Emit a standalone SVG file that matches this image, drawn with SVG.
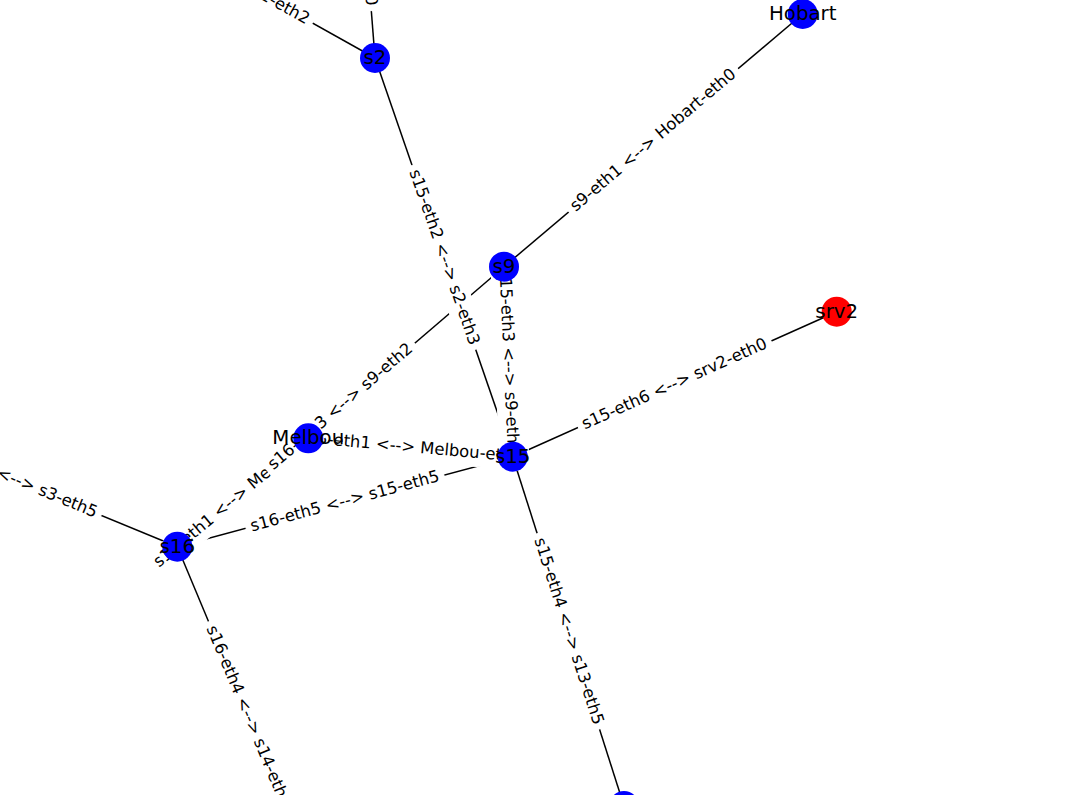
<svg xmlns="http://www.w3.org/2000/svg" width="1070" height="795" viewBox="0 0 1070 795">
<style>
.e{stroke:#000;stroke-width:1.5;fill:none}
.lb{fill:#fff;stroke:#fff;stroke-width:1}
.lt{font-family:"DejaVu Sans",sans-serif;font-size:16.4px;fill:#000;text-anchor:middle}
.n{fill:#0000ff}
.r{fill:#ff0000}
.nt{font-family:"DejaVu Sans",sans-serif;font-size:19.8px;fill:#000;text-anchor:middle}
</style>
<rect width="1070" height="795" fill="#fff"/>
<g id="connectors">
<line class="e" x1="375" y1="58" x2="350" y2="-262"/>
<line class="e" x1="375" y1="58" x2="89" y2="-102"/>
<line class="e" x1="375" y1="58" x2="512.7" y2="456.7"/>
<line class="e" x1="802.7" y1="14" x2="504" y2="266.7"/>
<line class="e" x1="504" y1="266.7" x2="512.7" y2="456.7"/>
<line class="e" x1="504" y1="266.7" x2="177.3" y2="546.7"/>
<line class="e" x1="177.3" y1="546.7" x2="308.3" y2="438.3"/>
<line class="e" x1="308.3" y1="438.3" x2="512.7" y2="456.7"/>
<line class="e" x1="512.7" y1="456.7" x2="177.3" y2="546.7"/>
<line class="e" x1="512.7" y1="456.7" x2="836.7" y2="311.7"/>
<line class="e" x1="512.7" y1="456.7" x2="624" y2="806"/>
<line class="e" x1="177.3" y1="546.7" x2="319" y2="886"/>
<line class="e" x1="177.3" y1="546.7" x2="-155" y2="410"/>
</g>
<g id="edge-labels">
<g transform="translate(362.5,-102) rotate(85.5)"><rect class="lb" x="-112.9" y="-13" width="225.8" height="26" rx="4.9"/><text class="lt" y="4.6">s2-eth1 &lt;--&gt; Sydney-eth0</text></g>
<g transform="translate(232,-22) rotate(29.2)"><rect class="lb" x="-92" y="-13" width="184" height="26" rx="4.9"/><text class="lt" y="4.6">s1-eth2 &lt;--&gt; s2-eth2</text></g>
<g transform="translate(443.85,257.35) rotate(70.9)"><rect class="lb" x="-97.2" y="-13" width="194.4" height="26" rx="4.9"/><text class="lt" y="4.6">s15-eth2 &lt;--&gt; s2-eth3</text></g>
<g transform="translate(653.35,140.35) rotate(-40.2)"><rect class="lb" x="-110.5" y="-13" width="221" height="26" rx="4.9"/><text class="lt" y="4.6">s9-eth1 &lt;--&gt; Hobart-eth0</text></g>
<g transform="translate(508.35,361.7) rotate(87.4)"><rect class="lb" x="-97.2" y="-13" width="194.4" height="26" rx="4.9"/><text class="lt" y="4.6">s15-eth3 &lt;--&gt; s9-eth1</text></g>
<g transform="translate(242.8,492.5) rotate(-39.6)"><rect class="lb" x="-117.6" y="-13" width="235.2" height="26" rx="4.9"/><text class="lt" y="4.6">s16-eth1 &lt;--&gt; Melbou-eth1</text></g>
<g transform="translate(410.5,447.5) rotate(5.1)"><rect class="lb" x="-117.6" y="-13" width="235.2" height="26" rx="4.9"/><text class="lt" y="4.6">s15-eth1 &lt;--&gt; Melbou-eth0</text></g>
<g transform="translate(340.65,406.7) rotate(-40.6)"><rect class="lb" x="-97.2" y="-13" width="194.4" height="26" rx="4.9"/><text class="lt" y="4.6">s16-eth3 &lt;--&gt; s9-eth2</text></g>
<g transform="translate(345,501.7) rotate(-15.02)"><rect class="lb" x="-102.4" y="-13" width="204.8" height="26" rx="4.9"/><text class="lt" y="4.6">s16-eth5 &lt;--&gt; s15-eth5</text></g>
<g transform="translate(674.7,384.2) rotate(-24.1)"><rect class="lb" x="-105.5" y="-13" width="211" height="26" rx="4.9"/><text class="lt" y="4.6">s15-eth6 &lt;--&gt; srv2-eth0</text></g>
<g transform="translate(568.35,631.35) rotate(72.33)"><rect class="lb" x="-102.4" y="-13" width="204.8" height="26" rx="4.9"/><text class="lt" y="4.6">s15-eth4 &lt;--&gt; s13-eth5</text></g>
<g transform="translate(248.15,716.35) rotate(67.33)"><rect class="lb" x="-102.4" y="-13" width="204.8" height="26" rx="4.9"/><text class="lt" y="4.6">s16-eth4 &lt;--&gt; s14-eth4</text></g>
<g transform="translate(11.15,478.35) rotate(22.36)"><rect class="lb" x="-97.2" y="-13" width="194.4" height="26" rx="4.9"/><text class="lt" y="4.6">s16-eth2 &lt;--&gt; s3-eth5</text></g>
</g>
<g id="node-s2"><circle class="n" cx="375" cy="58" r="15"/><text class="nt" x="375" y="64">s2</text></g>
<g id="node-Hobart"><circle class="n" cx="802.7" cy="14" r="15"/><text class="nt" x="802.7" y="20">Hobart</text></g>
<g id="node-s9"><circle class="n" cx="504" cy="266.7" r="15"/><text class="nt" x="504" y="272.7">s9</text></g>
<g id="node-srv2"><circle class="r" cx="836.7" cy="311.7" r="15"/><text class="nt" x="836.7" y="317.7">srv2</text></g>
<g id="node-Melbou"><circle class="n" cx="308.3" cy="438.3" r="15"/><text class="nt" x="308.3" y="444.3">Melbou</text></g>
<g id="node-s15"><circle class="n" cx="512.7" cy="456.7" r="15"/><text class="nt" x="512.7" y="462.7">s15</text></g>
<g id="node-s16"><circle class="n" cx="177.3" cy="546.7" r="15"/><text class="nt" x="177.3" y="552.7">s16</text></g>
<g id="node-s13"><circle class="n" cx="624" cy="806" r="15"/></g>
</svg>
